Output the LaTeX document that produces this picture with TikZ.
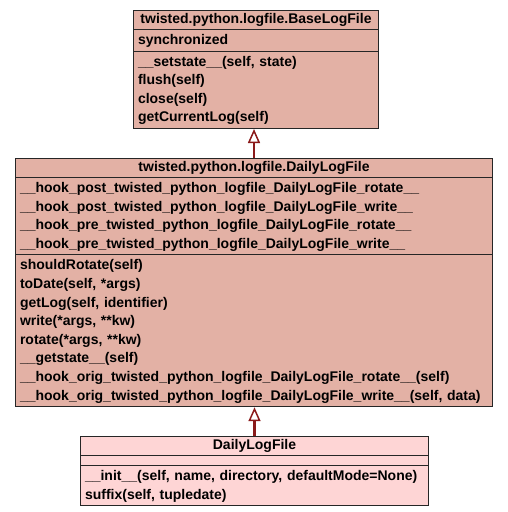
\documentclass[tikz,border=0pt]{standalone}
\usepackage{fontspec}
\setmainfont{Liberation Sans}
\usepackage{tikz}
\usetikzlibrary{shapes.multipart}
\usetikzlibrary{arrows.meta}
\definecolor{classfill}{HTML}{E3B1A5}
\definecolor{ownfill}{HTML}{FED5D5}
\definecolor{inhcolor}{HTML}{8B1A1A}
\setlength{\parindent}{0pt}
\newcommand{\ul}{\rule[-5.2pt]{0pt}{18.6pt}}
\newcommand{\ut}{\rule[-4.4pt]{0pt}{16pt}}

\begin{document}
\begin{tikzpicture}[x=1pt, y=-1pt,
	umlclass/.style={rectangle split, rectangle split parts=3, draw=black!85, line width=1pt,
		fill=classfill, inner xsep=4.5pt, inner ysep=1pt, anchor=north west, align=left,
		font=\bfseries\fontsize{14}{18.6}\selectfont},
	inh/.style={draw=inhcolor, line width=2.5pt,
		-{Triangle[open, length=14pt, width=12pt, line width=1.5pt]}}]
	\useasboundingbox (0,0) rectangle (507,512);
	\path (133,10) node(base)[umlclass, text width=236pt]{\centering\ut twisted.python.logfile.BaseLogFile\par
		\nodepart{second}\ul synchronized
		\nodepart{third}\ul \_\_setstate\_\_(self, state)\\
		\ul flush(self)\\
		\ul close(self)\\
		\ul getCurrentLog(self)}
	(15,158) node(daily)[umlclass, text width=468pt]{\centering\ut twisted.python.logfile.DailyLogFile\par
		\nodepart{second}\ul \_\_hook\_post\_twisted\_python\_logfile\_DailyLogFile\_rotate\_\_\\
		\ul \_\_hook\_post\_twisted\_python\_logfile\_DailyLogFile\_write\_\_\\
		\ul \_\_hook\_pre\_twisted\_python\_logfile\_DailyLogFile\_rotate\_\_\\
		\ul \_\_hook\_pre\_twisted\_python\_logfile\_DailyLogFile\_write\_\_
		\nodepart{third}\ul shouldRotate(self)\\
		\ul toDate(self, *args)\\
		\ul getLog(self, identifier)\\
		\ul write(*args, **kw)\\
		\ul rotate(*args, **kw)\\
		\ul \_\_getstate\_\_(self)\\
		\ul \_\_hook\_orig\_twisted\_python\_logfile\_DailyLogFile\_rotate\_\_(self)\\
		\ul \_\_hook\_orig\_twisted\_python\_logfile\_DailyLogFile\_write\_\_(self, data)}
	(80,436) node(log)[umlclass, fill=ownfill, text width=339pt]{\centering\ut DailyLogFile\par
		\nodepart{second}\rule{0pt}{7pt}
		\nodepart{third}\ul \_\_init\_\_(self, name, directory, defaultMode=None)\\
		\ul suffix(self, tupledate)};
	\draw [inh] (daily.north) -- (daily.north |- base.south);
	\draw [inh] (log.north) -- (log.north |- daily.south);
\end{tikzpicture}
\end{document}
